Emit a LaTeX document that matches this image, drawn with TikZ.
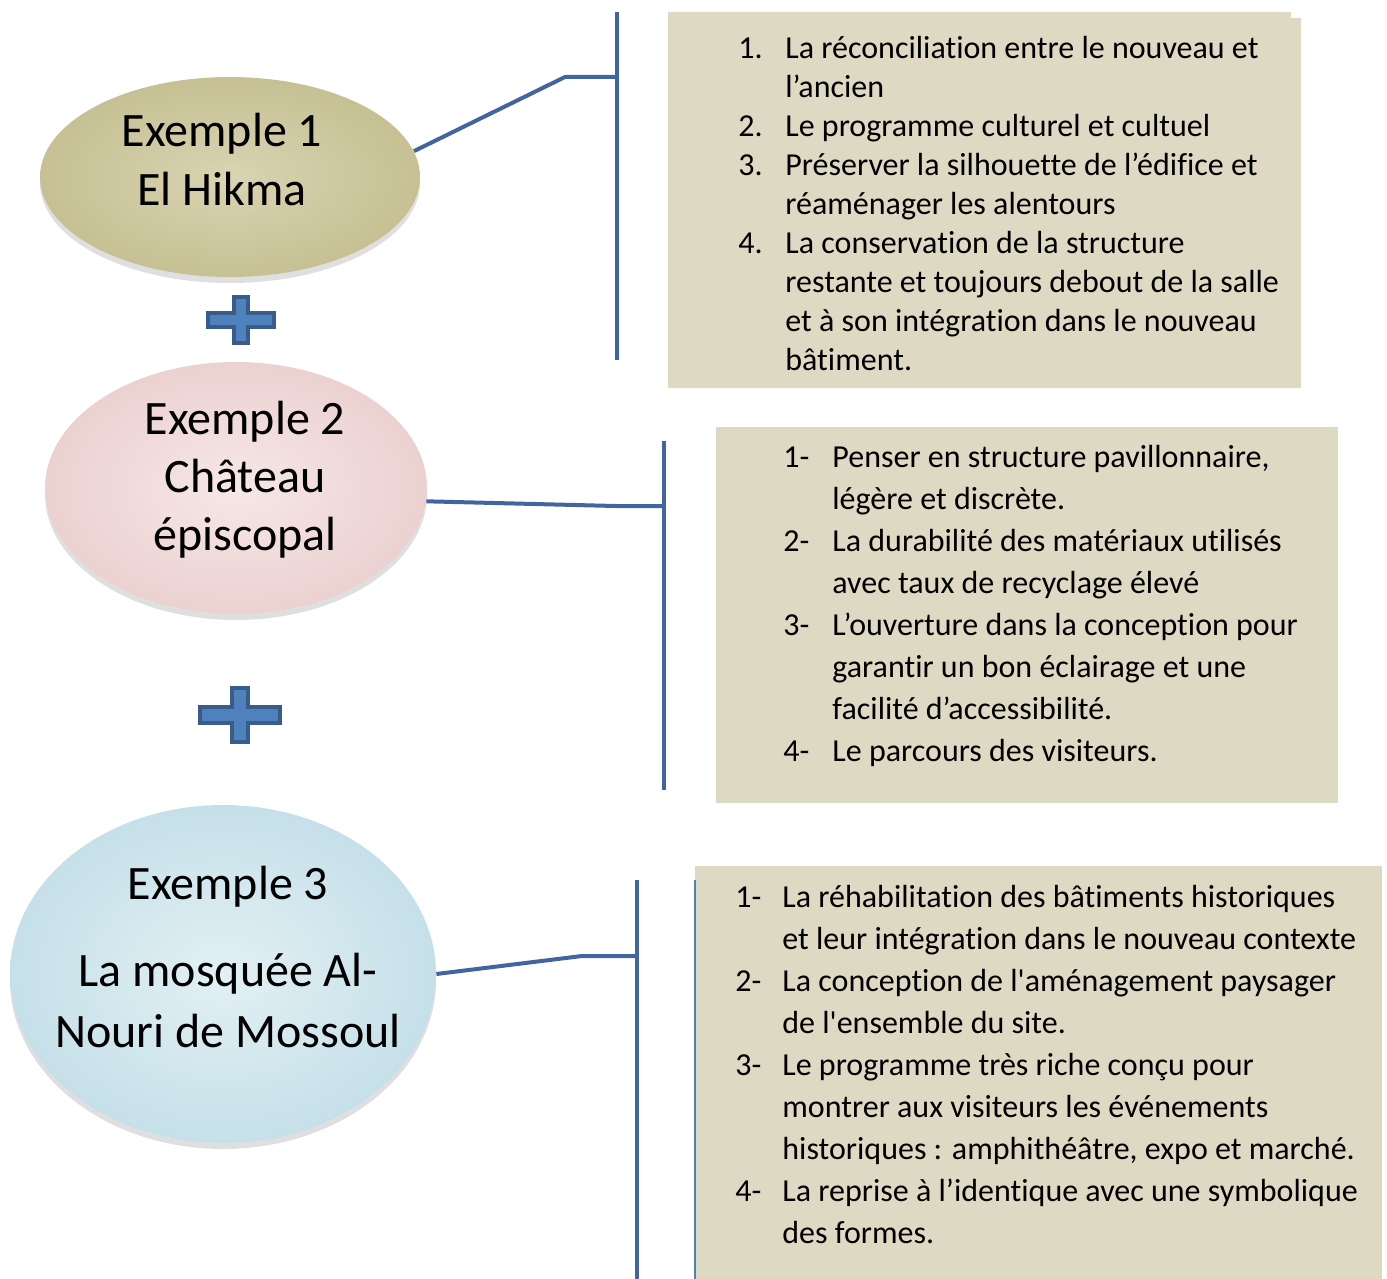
\documentclass[tikz,border=0pt]{standalone}
\usepackage{fontspec}
\setmainfont{Carlito}[Ligatures={TeXOff,CommonOff}]
\usetikzlibrary{shapes.geometric,shadows}
\definecolor{linkblue}{HTML}{41659E}
\definecolor{crossfill}{HTML}{4F81BD}
\definecolor{crossedge}{HTML}{385D8A}
\definecolor{boxtan}{HTML}{DDD9C3}
\definecolor{tanin}{HTML}{D9D4B2}
\definecolor{tanout}{HTML}{C6C094}
\definecolor{pinkin}{HTML}{F6E7E6}
\definecolor{pinkout}{HTML}{EBD2D1}
\definecolor{bluein}{HTML}{E2F0F4}
\definecolor{blueout}{HTML}{C6E0E9}
\tikzset{
  bubble/.style={ellipse,draw=none,inner sep=0pt,drop shadow={opacity=.25,shadow xshift=0pt,shadow yshift=-3pt}},
  link/.style={linkblue,line width=2pt},
  plusbox/.style={fill=crossfill,draw=crossedge,line width=2pt},
  title/.style={inner sep=0pt,anchor=base,font=\fontsize{24}{29.5}\selectfont},
  itemlist/.style={inner sep=0pt,anchor=base west,font=\fontsize{16}{19.5}\selectfont}
}
\begin{document}
\begin{tikzpicture}[x=.5pt,y=-.5pt]
  \useasboundingbox (0,0) rectangle (1387,1279);
  % boxes
  \fill[boxtan] (668,12)--(1291,12)--(1291,18)--(1301,18)--(1301,388)--(668,388)--cycle;
  \fill[boxtan] (716,427) rectangle (1338,803);
  \fill[boxtan] (695,866) rectangle (1382,1279);
  \draw[crossfill,line width=.75pt] (695,880)--(695,1279);
  % examples
  \node[bubble,minimum width=190pt,minimum height=100pt,inner color=tanin,outer color=tanout] (e1) at (230,177) {};
  \node[bubble,minimum width=191pt,minimum height=126pt,inner color=pinkin,outer color=pinkout] (e2) at (236,488) {};
  \node[bubble,minimum width=213pt,minimum height=169pt,inner color=bluein,outer color=blueout] (e3) at (223,974) {};
  \node[title] (t1) at (222,147) {\begin{tabular}[t]{@{}c@{}}Exemple 1\\El Hikma\end{tabular}};
  \node[title,font=\fontsize{24}{29}\selectfont] (t2) at (245,434) {\begin{tabular}[t]{@{}c@{}}Exemple 2\\Château\\épiscopal\end{tabular}};
  \node[title,font=\fontsize{24}{30.5}\selectfont] (t3) at (228,899) {\begin{tabular}[t]{@{}c@{}}Exemple 3\\[13pt]La mosquée Al-\\Nouri de Mossoul\end{tabular}};
  % plus signs
  \foreach \cx/\cy/\hw/\hh/\t in {241/320/33/23/7,240/715/40/27/8}
    \draw[plusbox] (\cx-\t,\cy-\hh)--(\cx+\t,\cy-\hh)--(\cx+\t,\cy-\t)--(\cx+\hw,\cy-\t)--(\cx+\hw,\cy+\t)--(\cx+\t,\cy+\t)
      --(\cx+\t,\cy+\hh)--(\cx-\t,\cy+\hh)--(\cx-\t,\cy+\t)--(\cx-\hw,\cy+\t)--(\cx-\hw,\cy-\t)--(\cx-\t,\cy-\t)--cycle;
  % brackets
  \coordinate (b1top) at (617,12);  \coordinate (b1mid) at (617,77);  \coordinate (b1bot) at (617,360);
  \coordinate (b2top) at (664,441); \coordinate (b2mid) at (664,506); \coordinate (b2bot) at (664,790);
  \coordinate (b3top) at (637,880); \coordinate (b3mid) at (637,956); \coordinate (b3bot) at (637,1279);
  \draw[link] (b1top)--(b1bot) (b2top)--(b2bot) (b3top)--(b3bot);
  \draw[link] (e1.8)--(565,77)--(b1mid);
  \draw[link] (e2.-4)--(615,506)--(b2mid);
  \draw[link] (e3.east)--(582,956)--(b3mid);
  % lists
  \node[itemlist] (l1) at (738,59) {\begin{tabular}[t]{@{}p{23.5pt}@{}l@{}}
    1. & La réconciliation entre le nouveau et\\
       & l’ancien\\
    2. & Le programme culturel et cultuel\\
    3. & Préserver la silhouette de l’édifice et\\
       & réaménager les alentours\\
    4. & La conservation de la structure\\
       & restante et toujours debout de la salle\\
       & et à son intégration dans le nouveau\\
       & bâtiment.
  \end{tabular}};
  \node[itemlist,font=\fontsize{16}{21}\selectfont] (l2) at (783,467) {\begin{tabular}[t]{@{}p{24.5pt}@{}l@{}}
    1- & Penser en structure pavillonnaire,\\
       & légère et discrète.\\
    2- & La durabilité des matériaux utilisés\\
       & avec taux de recyclage élevé\\
    3- & L’ouverture dans la conception pour\\
       & garantir un bon éclairage et une\\
       & facilité d’accessibilité.\\
    4- & Le parcours des visiteurs.
  \end{tabular}};
  \node[itemlist,font=\fontsize{16}{21}\selectfont] (l3) at (735,907) {\begin{tabular}[t]{@{}p{23.5pt}@{}l@{}}
    1- & La réhabilitation des bâtiments historiques\\
       & et leur intégration dans le nouveau contexte\\
    2- & La conception de l'aménagement paysager\\
       & de l'ensemble du site.\\
    3- & Le programme très riche conçu pour\\
       & montrer aux visiteurs les événements\\
       & historiques : amphithéâtre, expo et marché.\\
    4- & La reprise à l’identique avec une symbolique\\
       & des formes.
  \end{tabular}};
\end{tikzpicture}
\end{document}
